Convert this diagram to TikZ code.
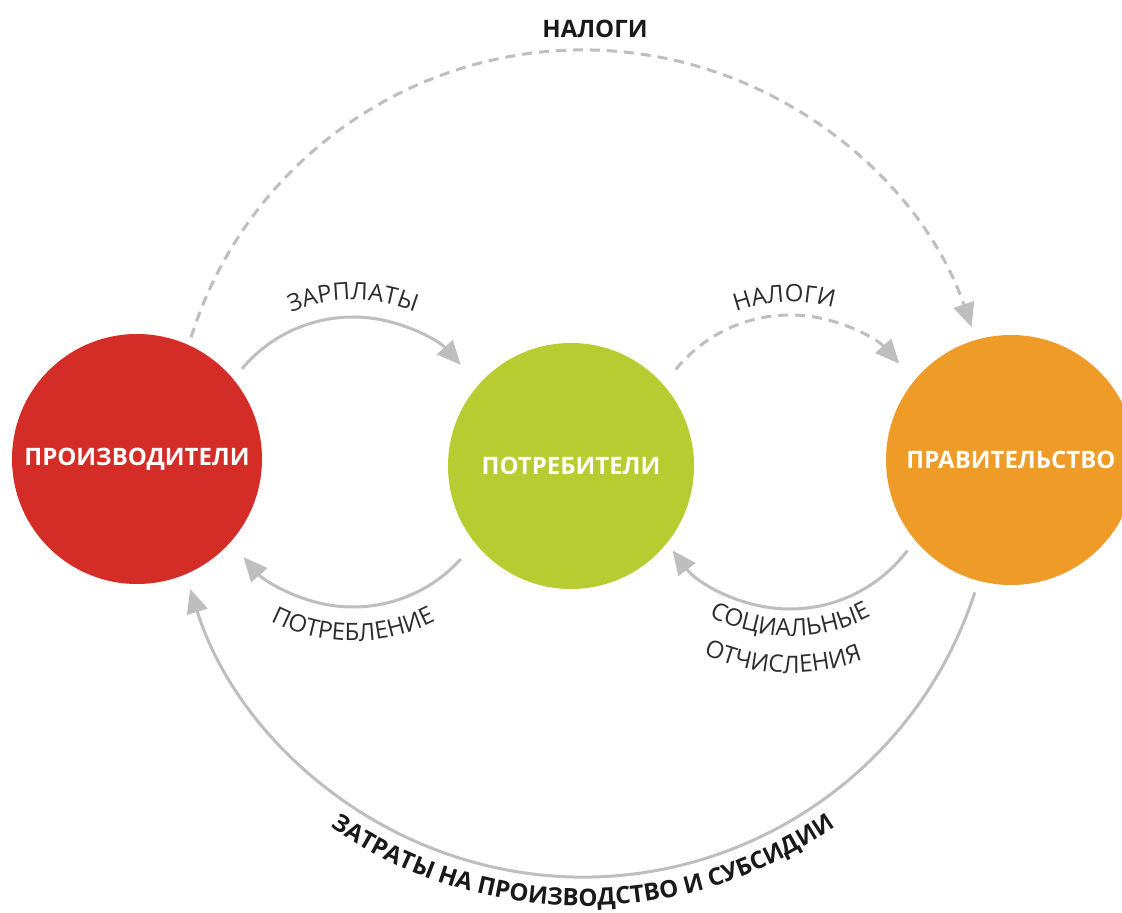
\documentclass[tikz,border=0pt]{standalone}
\usepackage{fontspec}
\setmainfont{Open Sans}
\usetikzlibrary{arrows.meta,calc,decorations.text}
\definecolor{prodred}{RGB}{212,44,38}
\definecolor{consgreen}{RGB}{183,204,48}
\definecolor{govorange}{RGB}{238,155,40}
\definecolor{arrowgray}{RGB}{190,190,190}
\definecolor{labelgray}{RGB}{45,45,45}
\definecolor{boldgray}{RGB}{25,25,25}
\newcommand\cirlblfont{\bfseries\fontsize{24}{24}\selectfont}
\newcommand\arclblfont{\fontsize{24}{24}\selectfont}
\newcommand\bigbfont{\bfseries\fontsize{24}{24}\selectfont}
\begin{document}
\begin{tikzpicture}[x=1pt,y=1pt,
  agent/.style={circle, minimum size=250pt, inner sep=0pt, text=white, font=\cirlblfont},
  flow/.style={draw=arrowgray, line width=3pt, -{Triangle[length=24pt,width=21pt]}},
  dashflow/.style={flow, dash pattern=on 10pt off 7pt}
]
\useasboundingbox (0,0) rectangle (1122,913);
\clip (0,0) rectangle (1122,913);
\fill[white] (0,0) rectangle (1122,913);

\node[agent, fill=prodred] (prod) at (137,454) {ПРОИЗВОДИТЕЛИ};
\node[agent, fill=consgreen, minimum size=246pt] (cons) at (571,447) {ПОТРЕБИТЕЛИ};
\node[agent, fill=govorange] (gov) at (1011,453) {ПРАВИТЕЛЬСТВО};

\coordinate (c12) at (353,451);
\coordinate (c23) at (790,451);
\coordinate (ctop) at (583,452);
\coordinate (cbot) at (583,448);

% wages
\draw[flow] ($(c12)+(140:145pt)$) arc[start angle=140,end angle=42,radius=145pt];
% taxes from consumers
\draw[dashflow] ($(c23)+(141:147pt)$) arc[start angle=141,end angle=42,radius=147pt];
% consumption
\draw[flow] ($(c12)+(-42:145pt)$) arc[start angle=-42,end angle=-139,radius=145pt];
% social transfers
\draw[flow] ($(c23)+(-37:147pt)$) arc[start angle=-37,end angle=-143,radius=147pt];
% taxes from producers
\draw[dashflow] ($(ctop)+(162.5:411pt)$) arc[start angle=162.5,end angle=19,radius=411pt];
% spending and subsidies
\draw[flow] ($(cbot)+(-18:412pt)$) arc[start angle=-18,end angle=-162.5,radius=412pt];

% labels
\path[decorate,decoration={text along path,text align=center,text color=labelgray,text={|\arclblfont|ЗАРПЛАТЫ}}]
  ($(c12)+(150:162pt)$) arc[start angle=150,end angle=30,radius=162pt];
\path[decorate,decoration={text along path,text align=center,text color=labelgray,text={|\arclblfont|НАЛОГИ}}]
  ($(c23)+(152:160pt)$) arc[start angle=152,end angle=32,radius=160pt];
\path[decorate,decoration={text along path,text align=center,text color=labelgray,text={|\arclblfont|ПОТРЕБЛЕНИЕ}}]
  ($(c12)+(-150:179pt)$) arc[start angle=-150,end angle=-30,radius=179pt];
\path[decorate,decoration={text along path,text align=center,text color=labelgray,text={|\arclblfont|СОЦИАЛЬНЫЕ}}]
  ($(c23)+(-150:174pt)$) arc[start angle=-150,end angle=-30,radius=174pt];
\path[decorate,decoration={text along path,text align=center,text color=labelgray,text={|\arclblfont|ОТЧИСЛЕНИЯ}}]
  ($(c23)+(-152:211pt)$) arc[start angle=-152,end angle=-32,radius=211pt];
\path[decorate,decoration={text along path,text align=center,text color=boldgray,text={|\bigbfont|ЗАТРАТЫ НА ПРОИЗВОДСТВО И СУБСИДИИ}}]
  ($(cbot)+(-160:441pt)$) arc[start angle=-160,end angle=-20,radius=441pt];

\node[font=\bigbfont, text=boldgray] (taxtop) at (595,884) {НАЛОГИ};
\end{tikzpicture}
\end{document}
